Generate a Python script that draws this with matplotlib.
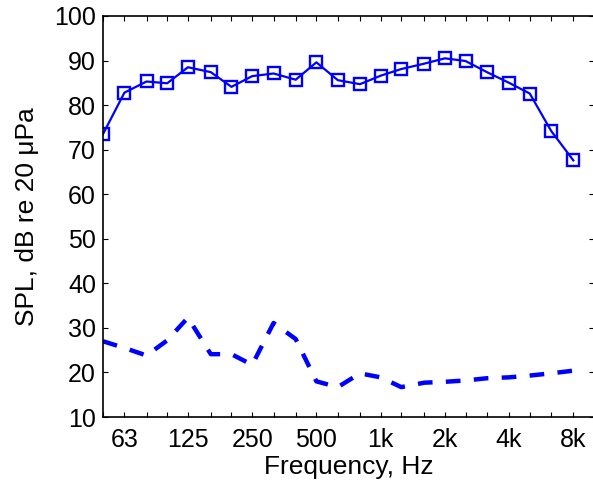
import matplotlib
matplotlib.use("Agg")
import matplotlib.pyplot as plt
from matplotlib.ticker import FixedLocator, NullFormatter

plt.rcParams['font.family'] = ['Liberation Sans', 'DejaVu Sans']

freqs = [50, 63, 80, 100, 125, 160, 200, 250, 315, 400, 500, 630, 800,
         1000, 1250, 1600, 2000, 2500, 3150, 4000, 5000, 6300, 8000]
spl_max = [73.5, 82.8, 85.3, 84.9, 88.5, 87.4, 84.1, 86.5, 87.1, 85.7, 89.6, 85.6,
           84.7, 86.6, 88.1, 89.3, 90.5, 89.9, 87.4, 85.0, 82.6, 74.2, 67.6]
spl_min = [27.0, 25.5, 23.8, 27.2, 32.3, 24.1, 24.1, 21.7, 31.1, 27.5, 18.0, 16.7,
           19.8, 18.9, 16.7, 17.7, 17.9, 18.2, 18.7, 18.9, 19.3, 19.8, 20.4]
tick_vals = [63, 125, 250, 500, 1000, 2000, 4000, 8000]
tick_labels = ['63', '125', '250', '500', '1k', '2k', '4k', '8k']
y_ticks = list(range(10, 101, 10))

W, H = 593, 490
fig = plt.figure(figsize=(W / 100, H / 100), dpi=100)
ax = fig.add_axes([103 / W, (H - 417) / H, (594 - 103) / W, (417 - 16) / H])

blue = (0, 0, 1)
ax.plot(freqs, spl_max, color=blue, lw=1.6, marker='s', ms=8.5,
        mfc='none', mec=blue, mew=1.7)
ax.plot(freqs, spl_min, color=blue, lw=3.2, linestyle=(0, (3.3, 3.0)),
        dash_capstyle='butt')

ax.set_xscale('log')
ax.set_xlim(50, 10000)
ax.set_ylim(10, 100)
ax.xaxis.set_major_locator(FixedLocator(tick_vals))
ax.set_xticklabels(tick_labels)
ax.xaxis.set_minor_locator(FixedLocator([f for f in freqs if f not in tick_vals]))
ax.xaxis.set_minor_formatter(NullFormatter())
ax.set_yticks(y_ticks)

ax.tick_params(which='both', direction='in', top=True, right=True,
               length=3.5, width=0.8, labelsize=18, colors='black')
ax.tick_params(axis='y', pad=5)
ax.tick_params(axis='x', pad=8)
for s in ax.spines.values():
    s.set_linewidth(1.2)

ax.set_xlabel('Frequency, Hz', fontsize=19, labelpad=2)
ax.set_ylabel('SPL, dB re 20 μPa', fontsize=19, labelpad=11)

fig.savefig('out.png', dpi=100)
